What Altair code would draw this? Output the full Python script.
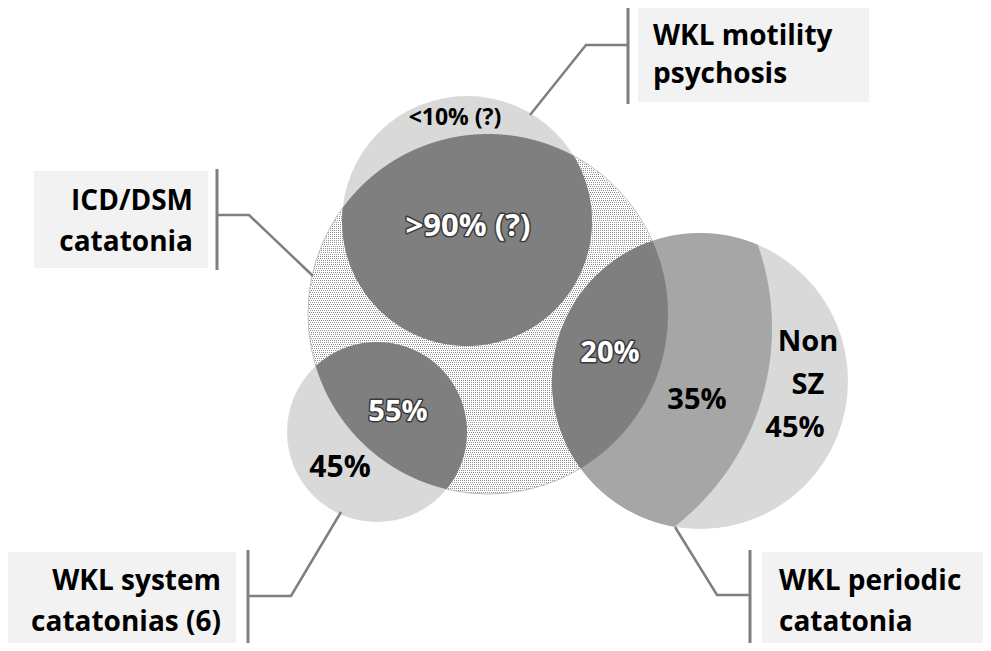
import altair as alt
import numpy as np
import pandas as pd

# ---- circles of the diagram (image pixel coordinates) ----
circle_names = ["ICD/DSM catatonia", "WKL motility psychosis", "WKL system catatonias", "WKL periodic catatonia"]
circle_cx = [488, 467, 377, 700]
circle_cy = [314, 221, 432, 381]
circle_r = [180, 125, 90, 148]
circle_fill = ["#ffffff", "#d9d9d9", "#d9d9d9", "#d9d9d9"]

# circle whose arc splits periodic catatonia into SZ / non-SZ
split_cx, split_cy, split_r = 521, 328, 251

DARK = "#7f7f7f"
MEDIUM = "#a6a6a6"
LINE = "#7f7f7f"
BOX = "#f2f2f2"
DOT = "#8e8e8e"
FONT = "Open Sans"

# ---- callouts ----
box_names = ["motility", "icd", "system", "periodic"]
box_x = [638, 34, 6, 762]
box_x2 = [869, 208, 236, 990]
box_y = [6, 171, 552, 552]
box_y2 = [102, 268, 648, 648]
bar_x = [628, 217, 248, 750]
bar_y = [4, 169, 550, 550]
bar_y2 = [104, 270, 651, 651]
conn_x = [[628, 586, 530], [217, 249, 313], [248, 291, 341], [750, 717, 675]]
conn_y = [[45, 45, 115], [215, 215, 276], [596, 596, 512], [595, 595, 527]]

label_lines = [["WKL motility", "psychosis"], ["ICD/DSM", "catatonia"],
               ["WKL system", "catatonias (6)"], ["WKL periodic", "catatonia"]]
label_x = [653, 193, 221, 779]
label_y = [[37, 75], [202, 243], [582, 623], [582, 623]]
label_align = ["left", "right", "right", "left"]

# ---- region percentages ----
pct_text = ["<10% (?)", ">90% (?)", "20%", "35%", "Non", "SZ", "45%", "55%", "45%"]
pct_x = [455, 468, 610, 697, 808, 808, 795, 398, 340]
pct_y = [118, 227, 353, 400, 342, 385, 428, 412, 468]
pct_size = [23, 31, 29, 29, 29, 29, 29, 29, 30]
pct_white = [False, True, True, False, False, False, False, True, False]

W, H = 975, 635
X0, Y0 = 8, 8
xs = alt.Scale(domain=[X0, X0 + W], nice=False, zero=False)
ys = alt.Scale(domain=[Y0 + H, Y0], nice=False, zero=False)


def lens(a, b, n=1500):
    (ax, ay, ar), (bx, by, br) = a, b
    lo = max(ax - ar, bx - br)
    hi = min(ax + ar, bx + br)
    x = np.linspace(lo, hi, n)
    ha = np.sqrt(np.clip(ar ** 2 - (x - ax) ** 2, 0, None))
    hb = np.sqrt(np.clip(br ** 2 - (x - bx) ** 2, 0, None))
    top = np.maximum(ay - ha, by - hb)
    bot = np.minimum(ay + ha, by + hb)
    keep = top <= bot
    return x[keep], top[keep], bot[keep]


C = [(circle_cx[i], circle_cy[i], circle_r[i]) for i in range(4)]
split = (split_cx, split_cy, split_r)

region_rows = []
for rid, (a, b, col) in enumerate([
    (C[3], split, MEDIUM),
    (C[1], C[0], DARK),
    (C[2], C[0], DARK),
    (C[3], C[0], DARK),
]):
    x, t, bt = lens(a, b)
    for xi, ti, bi in zip(x, t, bt):
        region_rows.append({"rid": rid, "x": xi, "top": ti, "bot": bi, "fill": col})
regions = pd.DataFrame(region_rows)

# dotted texture rows of the ICD/DSM circle (dashed hairlines every 2 px)
icx, icy, ir = C[0]
tex_rows = []
for k, yy in enumerate(np.arange(icy - ir + 2, icy + ir - 1, 2)):
    yc = yy + 0.5
    half = np.sqrt(max(ir ** 2 - (yc - icy) ** 2, 0)) - 1
    if half <= 2:
        continue
    x1 = np.floor(icx - half) + (k % 2)
    x2 = np.floor(icx + half)
    tex_rows.append({"y": yc, "x": x1, "x2": x2})
texture = pd.DataFrame(tex_rows)

circles = pd.DataFrame({
    "name": circle_names, "x": circle_cx, "y": circle_cy,
    "size": [(2 * r) ** 2 for r in circle_r], "fill": circle_fill,
    "order": list(range(4)),
})

conn = pd.DataFrame([
    {"id": box_names[i], "k": k, "x": conn_x[i][k], "y": conn_y[i][k]}
    for i in range(4) for k in range(3)
])
boxes = pd.DataFrame({"id": box_names, "x": box_x, "x2": box_x2, "y": box_y, "y2": box_y2})
bars = pd.DataFrame({"id": box_names, "x": bar_x, "y": bar_y, "y2": bar_y2})
labels = pd.DataFrame([
    {"t": label_lines[i][j], "x": label_x[i], "y": label_y[i][j], "align": label_align[i]}
    for i in range(4) for j in range(2)
])
pcts = pd.DataFrame({"t": pct_text, "x": pct_x, "y": pct_y, "s": pct_size, "w": pct_white})

X = lambda f: alt.X(f, scale=xs, axis=None)
Y = lambda f: alt.Y(f, scale=ys, axis=None)

icd_layer = alt.Chart(circles.iloc[[0]]).mark_point(
    shape="circle", filled=True, opacity=1, strokeWidth=0
).encode(x=X("x:Q"), y=Y("y:Q"), size=alt.Size("size:Q", scale=None),
         color=alt.Color("fill:N", scale=None))

tex_layer = alt.Chart(texture).mark_rule(
    color=DOT, strokeWidth=1, strokeDash=[1, 1], strokeCap="butt"
).encode(x=X("x:Q"), x2="x2:Q", y=Y("y:Q"))

icd_edge = alt.Chart(circles.iloc[[0]]).mark_point(
    shape="circle", filled=False, opacity=1, strokeWidth=1, color="#bdbdbd"
).encode(x=X("x:Q"), y=Y("y:Q"), size=alt.Size("size:Q", scale=None))

circ_layer = alt.Chart(circles.iloc[1:]).mark_point(
    shape="circle", filled=True, opacity=1, strokeWidth=0
).encode(x=X("x:Q"), y=Y("y:Q"), size=alt.Size("size:Q", scale=None),
         color=alt.Color("fill:N", scale=None), order=alt.Order("order:Q"))

region_layer = alt.Chart(regions).mark_area(opacity=1, strokeWidth=0).encode(
    x=X("x:Q"), y=Y("top:Q"), y2="bot:Q", detail="rid:N",
    color=alt.Color("fill:N", scale=None),
)

conn_layer = alt.Chart(conn).mark_line(color=LINE, strokeWidth=2.5).encode(
    x=X("x:Q"), y=Y("y:Q"), detail="id:N", order="k:Q",
)
box_layer = alt.Chart(boxes).mark_rect(color=BOX).encode(
    x=X("x:Q"), x2="x2:Q", y=Y("y:Q"), y2="y2:Q",
)
bar_layer = alt.Chart(bars).mark_rule(color=LINE, strokeWidth=3).encode(
    x=X("x:Q"), y=Y("y:Q"), y2="y2:Q",
)

lab_left = alt.Chart(labels[labels["align"] == "left"]).mark_text(
    align="left", baseline="middle", font=FONT, fontSize=28, fontWeight="bold", color="black"
).encode(x=X("x:Q"), y=Y("y:Q"), text="t:N")
lab_right = alt.Chart(labels[labels["align"] == "right"]).mark_text(
    align="right", baseline="middle", font=FONT, fontSize=28, fontWeight="bold", color="black"
).encode(x=X("x:Q"), y=Y("y:Q"), text="t:N")

pct_base = alt.Chart(pcts)
pct_black = pct_base.transform_filter("!datum.w").mark_text(
    align="center", baseline="middle", font=FONT, fontWeight="bold", color="black"
).encode(x=X("x:Q"), y=Y("y:Q"), text="t:N", size=alt.Size("s:Q", scale=None))
pct_outline = pct_base.transform_filter("datum.w").mark_text(
    align="center", baseline="middle", font=FONT, fontWeight="bold", color="#3a3a3a",
    stroke="#3a3a3a", strokeWidth=3, strokeJoin="round"
).encode(x=X("x:Q"), y=Y("y:Q"), text="t:N", size=alt.Size("s:Q", scale=None))
pct_white_l = pct_base.transform_filter("datum.w").mark_text(
    align="center", baseline="middle", font=FONT, fontWeight="bold", color="white"
).encode(x=X("x:Q"), y=Y("y:Q"), text="t:N", size=alt.Size("s:Q", scale=None))

chart = alt.layer(
    icd_layer, tex_layer, icd_edge, circ_layer, region_layer, conn_layer, box_layer, bar_layer,
    lab_left, lab_right, pct_black, pct_outline, pct_white_l,
).properties(
    width=W, height=H, padding=0, autosize=alt.AutoSizeParams(type="none"),
).configure(background="white", view=alt.ViewConfig(stroke=None))

chart.save("out.html", embed_options={"renderer": "svg", "actions": False})
